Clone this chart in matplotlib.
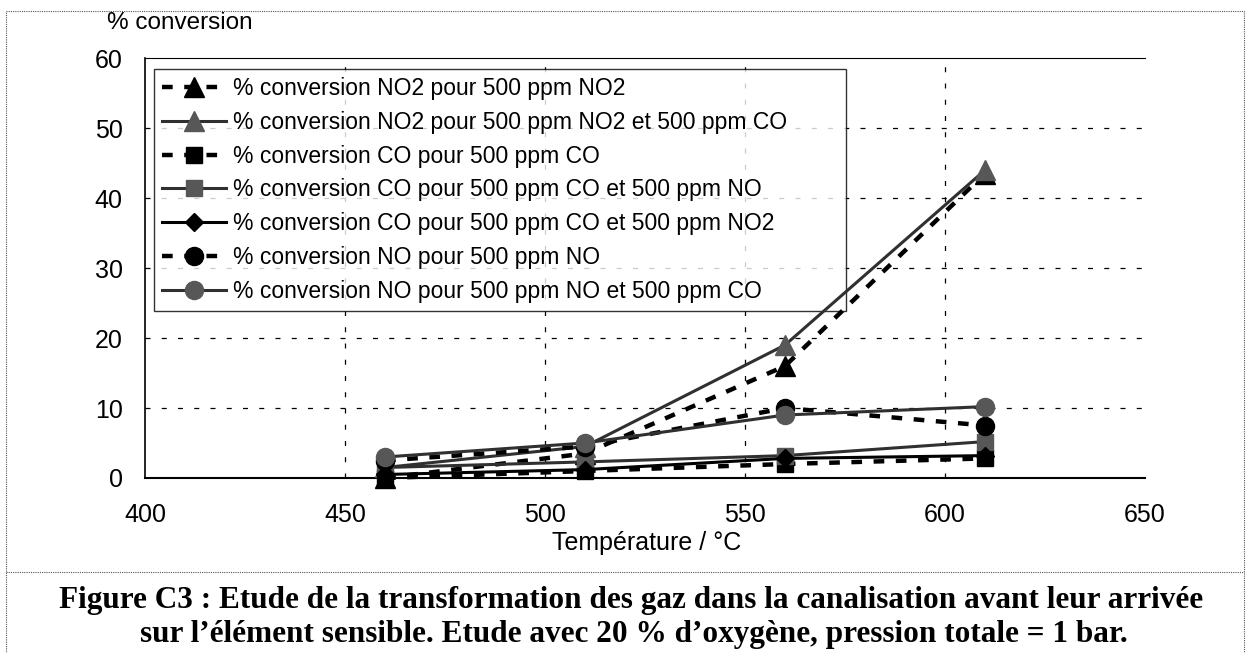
import matplotlib
matplotlib.use("Agg")
import matplotlib.pyplot as plt
from matplotlib.patches import Rectangle
from matplotlib.lines import Line2D

plt.rcParams['font.family'] = ['Liberation Sans', 'DejaVu Sans']

temperature = [460, 510, 560, 610]

no2_seul = [0.0, 3.5, 16.0, 43.5]
no2_avec_co = [1.5, 4.5, 19.0, 44.0]
co_seul = [0.0, 1.0, 2.0, 2.8]
co_avec_no = [1.5, 2.3, 3.2, 5.2]
co_avec_no2 = [0.5, 1.2, 2.8, 3.2]
no_seul = [2.5, 4.5, 10.0, 7.5]
no_avec_co = [3.0, 5.0, 9.0, 10.2]

labels = [
    "% conversion NO2 pour 500 ppm NO2",
    "% conversion NO2 pour 500 ppm NO2 et 500 ppm CO",
    "% conversion CO pour 500 ppm CO",
    "% conversion CO pour 500 ppm CO et 500 ppm NO",
    "% conversion CO pour 500 ppm CO et 500 ppm NO2",
    "% conversion NO pour 500 ppm NO",
    "% conversion NO pour 500 ppm NO et 500 ppm CO",
]

x_ticks = [400, 450, 500, 550, 600, 650]
y_ticks = [0, 10, 20, 30, 40, 50, 60]

grey = "#575757"
dark = "#303030"
dash = (0, (2.4, 2.6))

fig = plt.figure(figsize=(12.5, 6.53), dpi=100)
ax = fig.add_axes([0.116, 0.268, 0.8, 0.643])

series = [
    (no2_seul, dict(color="black", ls=dash, lw=3.2, marker="^", ms=14, mfc="black", mec="black")),
    (no2_avec_co, dict(color=dark, ls="-", lw=2.2, marker="^", ms=14, mfc=grey, mec=grey)),
    (co_seul, dict(color="black", ls=dash, lw=3.2, marker="s", ms=12, mfc="black", mec="black")),
    (co_avec_no, dict(color=dark, ls="-", lw=2.2, marker="s", ms=12, mfc=grey, mec=grey)),
    (co_avec_no2, dict(color="black", ls="-", lw=2.2, marker="D", ms=9, mfc="black", mec="black")),
    (no_seul, dict(color="black", ls=dash, lw=3.2, marker="o", ms=13, mfc="black", mec="black")),
    (no_avec_co, dict(color=dark, ls="-", lw=2.2, marker="o", ms=13, mfc=grey, mec=grey)),
]

for (vals, style), lab in zip(series, labels):
    ax.plot(temperature, vals, label=lab, clip_on=False, zorder=3, **style)

ax.set_xlim(400, 650)
ax.set_ylim(0, 60)
ax.set_xticks(x_ticks)
ax.set_yticks(y_ticks)
ax.tick_params(length=0, labelsize=18)
ax.tick_params(axis="x", pad=18)
ax.tick_params(axis="y", pad=16)

for v in x_ticks[1:-1]:
    ax.axvline(v, color="black", lw=0.9, ls=(0, (4, 9)), zorder=1)
for v in y_ticks[1:-1]:
    ax.axhline(v, color="black", lw=0.9, ls=(0, (4, 9)), zorder=1)

ax.spines["right"].set_visible(False)
ax.spines["top"].set_linewidth(0.8)
ax.spines["left"].set_linewidth(1.2)
ax.spines["bottom"].set_linewidth(1.5)

leg = ax.legend(loc="upper left", bbox_to_anchor=(0.009, 0.395, 0.692, 0.579), mode="expand",
                borderaxespad=0, fontsize=16.5, frameon=True, fancybox=False, numpoints=1,
                handlelength=2.8, handletextpad=0.3, labelspacing=0.47,
                borderpad=0.35)
leg.get_frame().set_edgecolor("black")
leg.get_frame().set_linewidth(1.0)
leg.set_zorder(2)

fig.text(0.144, 0.965, "% conversion", fontsize=17.5, ha="center", va="center")
fig.text(0.517, 0.168, "Température / °C", fontsize=18, ha="center", va="center")

caption_font = dict(family=["Liberation Serif", "DejaVu Serif"], weight="bold", fontsize=22.5,
                    ha="center", va="center")
fig.text(0.505, 0.080, "Figure C3 : Etude de la transformation des gaz dans la canalisation avant leur arrivée",
         **caption_font)
fig.text(0.507, 0.029, "sur l\u2019élément sensible. Etude avec 20 % d\u2019oxygène, pression totale = 1 bar.",
         **caption_font)

# cadre pointillé autour de la figure
fig.patches.append(Rectangle((0.005, -0.05), 0.99, 1.033, transform=fig.transFigure, fill=False,
                             edgecolor="#555555", lw=0.8, ls=(0, (1, 1))))
fig.lines.append(Line2D([0.005, 0.995], [0.124, 0.124], transform=fig.transFigure,
                        color="#555555", lw=0.8, ls=(0, (1, 1))))

fig.savefig("out.png", dpi=100)
